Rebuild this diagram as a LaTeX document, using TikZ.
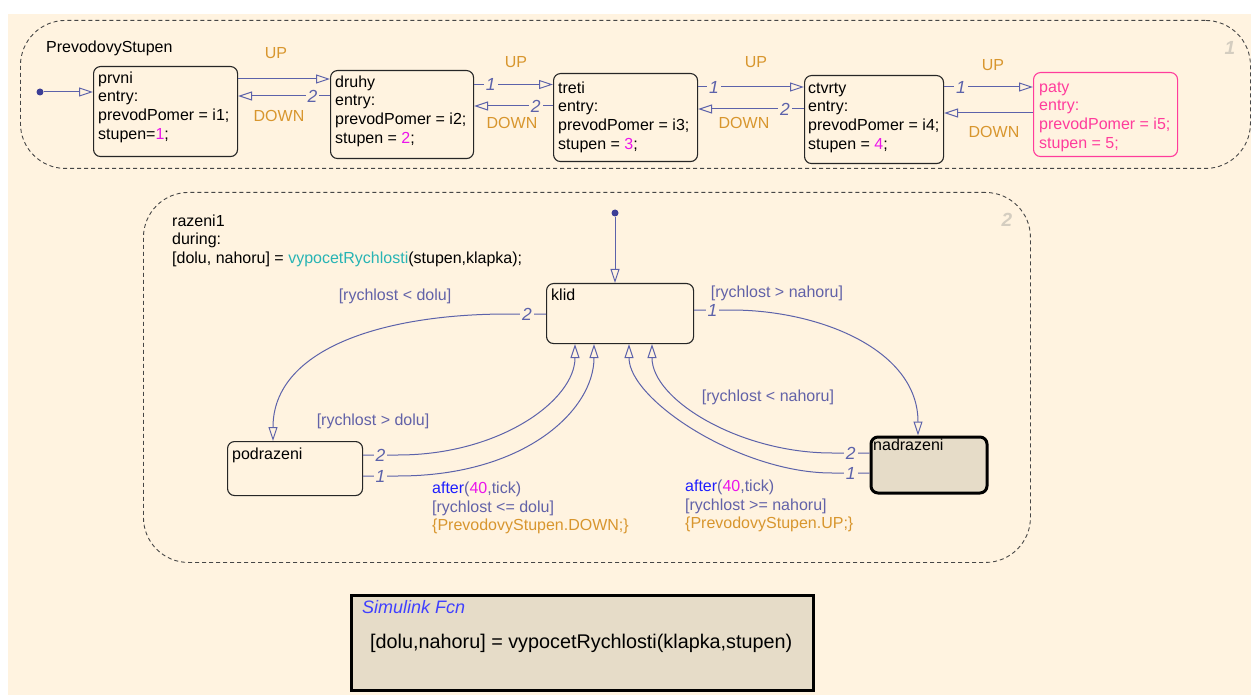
\documentclass[tikz,border=0pt]{standalone}
\usepackage{fontspec}
\setmainfont{Liberation Sans}
\usetikzlibrary{arrows.meta}

\definecolor{paper}{RGB}{255,243,224}
\definecolor{trans}{RGB}{92,98,170}
\definecolor{guard}{RGB}{98,98,168}
\definecolor{evt}{RGB}{216,150,46}
\definecolor{lit}{RGB}{235,20,235}
\definecolor{pinkst}{RGB}{255,60,156}
\definecolor{fnteal}{RGB}{40,180,180}
\definecolor{kw}{RGB}{30,30,255}
\definecolor{boxfill}{RGB}{230,220,200}
\definecolor{regnum}{RGB}{212,205,192}
\definecolor{frame}{RGB}{70,70,70}
\definecolor{initdot}{RGB}{60,62,150}

\newcommand\fs{\fontsize{16}{18.8}\selectfont}
\newcommand\lh{\rule{0pt}{13pt}}

\begin{document}
\begin{tikzpicture}[x=1pt,y=-1pt,
  region/.style={draw=frame, line width=0.9pt, dash pattern=on 4pt off 3pt,
    rounded corners=45pt, anchor=north west, inner sep=0pt},
  state/.style={draw=black!85, line width=1.1pt, rounded corners=7pt,
    anchor=north west, inner sep=0pt},
  heavy/.style={draw=black, line width=3pt, fill=boxfill, anchor=north west, inner sep=0pt},
  txt/.style={anchor=north west, inner sep=0pt, align=left, font=\fs},
  tr/.style={draw=trans, line width=1pt, -{Triangle[open, length=14pt, width=9pt]}},
  num/.style={fill=paper, inner sep=2pt, text=trans, font=\fontsize{17.5}{17.5}\selectfont\itshape},
  evlab/.style={text=evt, font=\fs, inner sep=0pt},
  grd/.style={text=guard, font=\fs, inner sep=0pt},
  regno/.style={text=regnum, font=\fontsize{19}{19}\selectfont\bfseries\itshape, inner sep=0pt},
  dot/.style={circle, fill=initdot, inner sep=0pt, minimum size=7pt}]

% canvas
\useasboundingbox (0,0) rectangle (1251,695);
\fill[white] (0,0) rectangle (1251,695);
\fill[paper] (8,14) rectangle (1251,695);

% ---------- superstate PrevodovyStupen ----------
\node[region, minimum width=1230pt, minimum height=148pt] (ps) at (20,20) {};
\node[anchor=base west, font=\fs, inner sep=0pt] (psT) at (46,53) {PrevodovyStupen};
\node[regno] (psN) at (1230,48) {1};

\node[state, minimum width=144pt, minimum height=90pt] (prvni) at (93,66) {};
\node[state, minimum width=143pt, minimum height=88pt] (druhy) at (330,70) {};
\node[state, minimum width=144pt, minimum height=88pt] (treti) at (553,73) {};
\node[state, minimum width=139pt, minimum height=88pt] (ctvrty) at (804,75) {};
\node[state, draw=pinkst, minimum width=144pt, minimum height=84pt] (paty) at (1033,72) {};

\node[txt] (prvniT) at (98,70) {\lh prvni\\entry:\\prevodPomer = i1;\\stupen=\textcolor{lit}{1};};
\node[txt] (druhyT) at (335,74) {\lh druhy\\entry:\\prevodPomer = i2;\\stupen = \textcolor{lit}{2};};
\node[txt] (tretiT) at (558,80) {\lh treti\\entry:\\prevodPomer = i3;\\stupen = \textcolor{lit}{3};};
\node[txt] (ctvrtyT) at (808,80) {\lh ctvrty\\entry:\\prevodPomer = i4;\\stupen = \textcolor{lit}{4};};
\node[txt, text=pinkst] (patyT) at (1039,79) {\lh paty\\entry:\\prevodPomer = i5;\\stupen = 5;};

% default transition
\node[dot] (i1) at (40,92) {};
\draw[tr] (i1) -- (prvni.west |- i1);

% gear changes
\draw[tr] (prvni.east |- 0,79) -- (druhy.west |- 0,79);
\draw[tr] (druhy.west |- 0,96) -- node[num, pos=.19] (n12) {2} (prvni.east |- 0,96);
\draw[tr] (druhy.east |- 0,84.5) -- node[num, pos=.21] (n23) {1} (treti.west |- 0,84.5);
\draw[tr] (treti.west |- 0,106) -- node[num, pos=.22] (n32) {2} (druhy.east |- 0,106);
\draw[tr] (treti.east |- 0,87) -- node[num, pos=.15] (n34) {1} (ctvrty.west |- 0,87);
\draw[tr] (ctvrty.west |- 0,109) -- node[num, pos=.18] (n43) {2} (treti.east |- 0,109);
\draw[tr] (ctvrty.east |- 0,87) -- node[num, pos=.19] (n45) {1} (paty.west |- 0,87);
\draw[tr] (paty.west |- 0,113) -- (ctvrty.east |- 0,113);

\node[evlab] (up1) at (276,53.5) {UP};
\node[evlab] (dn1) at (279,116) {DOWN};
\node[evlab] (up2) at (516,62.5) {UP};
\node[evlab] (dn2) at (512,123) {DOWN};
\node[evlab] (up3) at (756,62.5) {UP};
\node[evlab] (dn3) at (744,123) {DOWN};
\node[evlab] (up4) at (993,65) {UP};
\node[evlab] (dn4) at (994,132) {DOWN};

% ---------- superstate razeni1 ----------
\node[region, minimum width=887pt, minimum height=370pt] (rz) at (143,192) {};
\node[regno] (rzN) at (1007,220) {2};
\node[txt] (rzT) at (172,213) {\lh razeni1\\during:\\{}[dolu, nahoru] = \textcolor{fnteal}{vypocetRychlosti}(stupen,klapka);};

\node[state, minimum width=147pt, minimum height=60pt] (klid) at (546,283) {};
\node[state, minimum width=135pt, minimum height=54pt] (podrazeni) at (227,441) {};
\node[heavy, rounded corners=7pt, minimum width=116pt, minimum height=56pt] (nadrazeni) at (869.5,435.5) {};

\node[txt] (klidT) at (551,287) {\lh klid};
\node[txt] (podrazeniT) at (232,446) {\lh podrazeni};
\node[txt] (nadrazeniT) at (873,437) {\lh nadrazeni};

% default transition
\node[dot] (i2) at (615,213) {};
\draw[tr] (i2) -- (klid.north -| i2);

% shifting down
\draw[tr] (klid.west |- 0,314) -- node[num] (k2) {2} (508,314)
  .. controls (380,314) and (273,350) .. (podrazeni.north -| 273,0);
\draw[tr] (podrazeni.east |- 0,455) -- node[num] (p2) {2} (398,455)
  .. controls (500,455) and (575,400) .. (klid.south -| 575,0);
\draw[tr] (podrazeni.east |- 0,476) -- node[num] (p1) {1} (398,476)
  .. controls (525,476) and (594,410) .. (klid.south -| 594,0);

% shifting up
\draw[tr] (klid.east |- 0,310) -- node[num] (k1) {1} (731,310)
  .. controls (820,310) and (918,350) .. (nadrazeni.north -| 918,0);
\draw[tr] (nadrazeni.west |- 0,453) -- node[num] (u2) {2} (832,453)
  .. controls (740,453) and (652,400) .. (klid.south -| 652,0);
\draw[tr] (nadrazeni.west |- 0,473) -- node[num] (u1) {1} (832,473)
  .. controls (740,473) and (629,400) .. (klid.south -| 629,0);

% guards and actions
\node[grd] (g1) at (395,296) {[rychlost < dolu]};
\node[grd] (g2) at (373,421) {[rychlost > dolu]};
\node[grd] (g3) at (777,293) {[rychlost > nahoru]};
\node[grd] (g4) at (768,397) {[rychlost < nahoru]};
\node[txt, text=guard] (aDown) at (432,480) {\lh\textcolor{kw}{after}(\textcolor{lit}{40},tick)\\{}[rychlost <= dolu]\\\textcolor{evt}{\{PrevodovyStupen.DOWN;\}}};
\node[txt, text=guard] (aUp) at (685,478) {\lh\textcolor{kw}{after}(\textcolor{lit}{40},tick)\\{}[rychlost >= nahoru]\\\textcolor{evt}{\{PrevodovyStupen.UP;\}}};

% ---------- Simulink function ----------
\node[heavy, minimum width=462pt, minimum height=95pt] (fcn) at (349.5,593.5) {};
\node[anchor=west, inner sep=0pt, text=kw!85!white, font=\fontsize{18}{18}\selectfont\itshape] (fcnT) at (362,607) {Simulink Fcn};
\node[anchor=west, inner sep=0pt, font=\fontsize{19.8}{19.8}\selectfont] (fcnB) at (370,643) {[dolu,nahoru] = vypocetRychlosti(klapka,stupen)};

\end{tikzpicture}
\end{document}
